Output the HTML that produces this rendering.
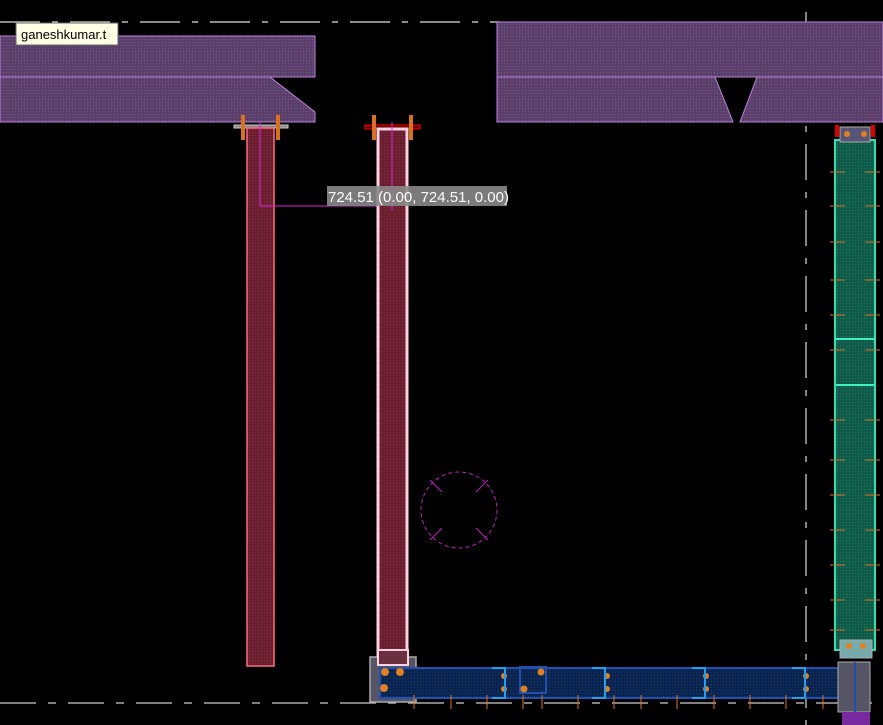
<!DOCTYPE html>
<html><head><meta charset="utf-8"><style>
html,body{margin:0;padding:0;background:#000;width:883px;height:725px;overflow:hidden}
svg{display:block}
</style></head><body>
<svg width="883" height="725" viewBox="0 0 883 725" xmlns="http://www.w3.org/2000/svg">
<defs>
<pattern id="hp" width="3" height="3" patternUnits="userSpaceOnUse"><rect width="3" height="3" fill="#5a3f6a"/><rect width="1" height="1" fill="#7a5a8a"/></pattern>
<pattern id="hr" width="3" height="3" patternUnits="userSpaceOnUse"><rect width="3" height="3" fill="#6a1f30"/><rect width="1" height="1" fill="#8a3040"/></pattern>
<pattern id="hg" width="3" height="3" patternUnits="userSpaceOnUse"><rect width="3" height="3" fill="#0f5a48"/><rect width="1" height="1" fill="#1f7a60"/></pattern>
<pattern id="hb" width="3" height="3" patternUnits="userSpaceOnUse"><rect width="3" height="3" fill="#0a2450"/><rect width="1" height="1" fill="#1a3a70"/></pattern>
</defs>
<!-- dashed guide lines -->
<line x1="0" y1="22" x2="500" y2="22" stroke="#ddd" stroke-width="1.2" stroke-dasharray="40,12,6,12"/>
<line x1="806" y1="12" x2="806" y2="725" stroke="#ddd" stroke-width="1.2" stroke-dasharray="36,12,6,12"/>
<line x1="0" y1="703" x2="883" y2="703" stroke="#ccc" stroke-width="1.2" stroke-dasharray="36,12,8,12"/>
<!-- beams -->
<path d="M0 36 H315 V77 H0 Z" fill="url(#hp)" stroke="#c080e0"/>
<path d="M0 77 H270 L315 112 V122 H0 Z" fill="url(#hp)" stroke="#c080e0"/>
<path d="M497 22 H883 V77 H497 Z" fill="url(#hp)" stroke="#c080e0"/>
<path d="M497 77 H715 L733 122 H497 Z" fill="url(#hp)" stroke="#c080e0"/>
<path d="M757 77 H883 V122 H740 Z" fill="url(#hp)" stroke="#c080e0"/>
<!-- left column -->
<rect x="234" y="125" width="54" height="3" fill="#888" stroke="#ccc"/>
<rect x="241" y="115" width="4" height="25" fill="#d87020"/>
<rect x="276" y="115" width="4" height="25" fill="#d87020"/>
<rect x="247" y="128" width="27" height="538" fill="url(#hr)" stroke="#ff6a78" stroke-width="1.5"/>
<line x1="260" y1="122" x2="260" y2="206" stroke="#e020e0"/>
<line x1="260" y1="206" x2="395" y2="206" stroke="#e020e0"/>
<!-- middle column -->
<rect x="365" y="125" width="55" height="4" fill="#600" stroke="#f00"/>
<rect x="372" y="115" width="4" height="25" fill="#d87020"/>
<rect x="409" y="115" width="4" height="25" fill="#d87020"/>
<rect x="378" y="129" width="29" height="534" fill="url(#hr)" stroke="#ffd0e0" stroke-width="3"/>
<line x1="392" y1="122" x2="392" y2="210" stroke="#e020e0"/>
<rect x="327" y="186" width="180" height="20" fill="#888" opacity="0.9"/>
<text x="328" y="202" font-family="Liberation Sans, sans-serif" font-size="15" fill="#fff">724.51 (0.00, 724.51, 0.00)</text>
<!-- circle -->
<circle cx="459" cy="510" r="38" fill="none" stroke="#c020c0" stroke-dasharray="4,3"/>
<g stroke="#c020c0"><line x1="430" y1="480" x2="442" y2="492"/><line x1="488" y1="480" x2="476" y2="492"/><line x1="430" y1="540" x2="442" y2="528"/><line x1="488" y1="540" x2="476" y2="528"/></g>
<!-- green column -->
<rect x="835" y="125" width="4" height="12" fill="#d00"/><rect x="871" y="125" width="4" height="12" fill="#d00"/>
<rect x="835" y="140" width="40" height="510" fill="url(#hg)" stroke="#30e0b0" stroke-width="2"/>
<rect x="840" y="127" width="30" height="15" fill="#557" stroke="#aaa"/>
<circle cx="847" cy="134" r="3" fill="#e08020"/><circle cx="864" cy="134" r="3" fill="#e08020"/>
<g stroke="#e07020"><line x1="830" y1="172" x2="845" y2="172"/><line x1="865" y1="172" x2="880" y2="172"/><line x1="830" y1="206" x2="845" y2="206"/><line x1="865" y1="206" x2="880" y2="206"/><line x1="830" y1="242" x2="845" y2="242"/><line x1="865" y1="242" x2="880" y2="242"/><line x1="830" y1="280" x2="845" y2="280"/><line x1="865" y1="280" x2="880" y2="280"/><line x1="830" y1="315" x2="845" y2="315"/><line x1="865" y1="315" x2="880" y2="315"/><line x1="830" y1="350" x2="845" y2="350"/><line x1="865" y1="350" x2="880" y2="350"/><line x1="830" y1="420" x2="845" y2="420"/><line x1="865" y1="420" x2="880" y2="420"/><line x1="830" y1="460" x2="845" y2="460"/><line x1="865" y1="460" x2="880" y2="460"/><line x1="830" y1="495" x2="845" y2="495"/><line x1="865" y1="495" x2="880" y2="495"/><line x1="830" y1="530" x2="845" y2="530"/><line x1="865" y1="530" x2="880" y2="530"/><line x1="830" y1="565" x2="845" y2="565"/><line x1="865" y1="565" x2="880" y2="565"/><line x1="830" y1="600" x2="845" y2="600"/><line x1="865" y1="600" x2="880" y2="600"/><line x1="830" y1="630" x2="845" y2="630"/><line x1="865" y1="630" x2="880" y2="630"/></g>
<line x1="836" y1="339" x2="874" y2="339" stroke="#40f0c0" stroke-width="2"/>
<line x1="836" y1="385" x2="874" y2="385" stroke="#40f0c0" stroke-width="2"/>
<rect x="840" y="640" width="32" height="18" fill="#7aa" stroke="#aaa"/>
<circle cx="849" cy="646" r="3" fill="#e08020"/><circle cx="863" cy="646" r="3" fill="#e08020"/>
<!-- blue beam -->
<rect x="370" y="657" width="46" height="45" fill="#556" stroke="#aaa" stroke-width="1.5"/>
<rect x="378" y="650" width="30" height="15" fill="#6a3040" stroke="#ffd0e0" stroke-width="2"/>
<rect x="380" y="668" width="460" height="30" fill="url(#hb)" stroke="#2050b0" stroke-width="2"/>
<rect x="520" y="667" width="26" height="26" fill="none" stroke="#2050b0" stroke-width="2"/>
<g fill="#e08020"><circle cx="385" cy="672" r="4"/><circle cx="400" cy="672" r="4"/><circle cx="384" cy="688" r="4"/><circle cx="541" cy="672" r="3.5"/><circle cx="524" cy="689" r="3.5"/>
<circle cx="504" cy="676" r="3"/><circle cx="504" cy="689" r="3"/><circle cx="607" cy="676" r="3"/><circle cx="607" cy="689" r="3"/><circle cx="706" cy="676" r="3"/><circle cx="706" cy="689" r="3"/><circle cx="806" cy="676" r="3"/><circle cx="806" cy="689" r="3"/></g>
<g stroke="#20a0f0" stroke-width="2" fill="none"><path d="M592 668 H605 V698 H592"/><path d="M692 668 H705 V698 H692"/><path d="M792 668 H805 V698 H792"/><path d="M492 668 H505 V698 H492"/></g>
<g stroke="#e07020"><line x1="414" y1="695" x2="414" y2="709"/><line x1="451" y1="695" x2="451" y2="709"/><line x1="487" y1="695" x2="487" y2="709"/><line x1="523" y1="695" x2="523" y2="709"/><line x1="542" y1="695" x2="542" y2="709"/><line x1="578" y1="695" x2="578" y2="709"/><line x1="614" y1="695" x2="614" y2="709"/><line x1="641" y1="695" x2="641" y2="709"/><line x1="677" y1="695" x2="677" y2="709"/><line x1="714" y1="695" x2="714" y2="709"/><line x1="750" y1="695" x2="750" y2="709"/><line x1="786" y1="695" x2="786" y2="709"/><line x1="823" y1="695" x2="823" y2="709"/></g>
<rect x="838" y="662" width="32" height="50" fill="#556" stroke="#aaa"/>
<line x1="855" y1="662" x2="855" y2="712" stroke="#2050b0" stroke-width="2"/>
<rect x="842" y="712" width="28" height="13" fill="#7a2aa0"/>
<!-- label -->
<rect x="16" y="23" width="102" height="22" fill="#ffffe6" stroke="#666"/>
<text x="21" y="39" font-family="Liberation Sans, sans-serif" font-size="13" fill="#000">ganeshkumar.t</text>
</svg>
</body></html>
